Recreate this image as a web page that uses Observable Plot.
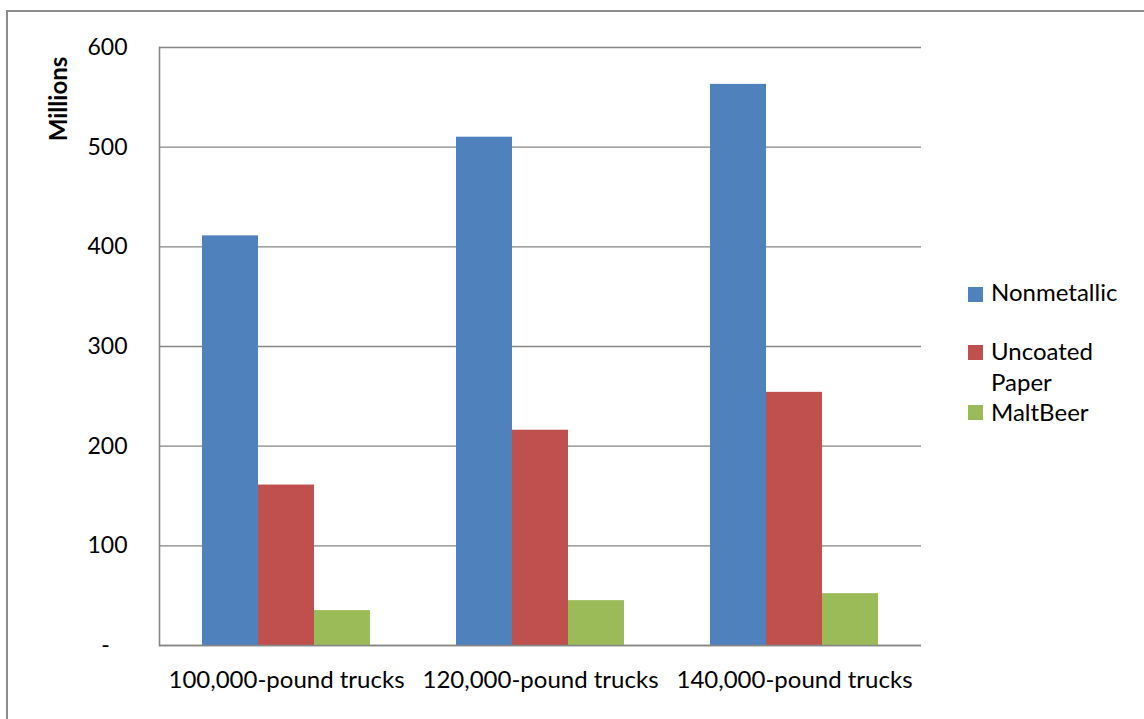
<!DOCTYPE html>
<html>
<head>
<meta charset="utf-8">
<script src="https://cdn.jsdelivr.net/npm/d3@7"></script>
<script src="https://cdn.jsdelivr.net/npm/@observablehq/plot@0.6"></script>
<style>
  html, body { margin: 0; padding: 0; background: #fff; overflow: hidden; }
  #wrap { position: relative; width: 1144px; height: 719px; overflow: hidden; background: #fff;
          font-family: Lato, "Open Sans", sans-serif; color: #000; }
  #border { position: absolute; left: 6px; top: 10px; width: 1300px; height: 900px;
            border: 2px solid #8c8c8c; box-sizing: border-box; pointer-events: none; }
  #chart { position: absolute; left: 0; top: 0; }
  .lg-item { position: absolute; left: 968px; }
  .lg-sw { position: absolute; left: 0; width: 15px; height: 15px; }
  .lg-tx { position: absolute; left: 23px; top: 0; width: 140px; font-size: 24px; line-height: 33px; white-space: normal; }
</style>
</head>
<body>
<div id="wrap">
  <div id="chart"></div>
  <div id="legend"></div>
  <div id="border"></div>
</div>
<script>
// ---- data ----
const categories = ["100,000-pound trucks", "120,000-pound trucks", "140,000-pound trucks"];
const series = ["Nonmetallic", "Uncoated Paper", "MaltBeer"];
const nonmetallic = [411, 510, 563];
const uncoatedPaper = [161, 216, 254];
const maltBeer = [35, 45, 52];
const colors = ["#4F81BD", "#C0504D", "#9BBB59"];
const yTicks = [0, 100, 200, 300, 400, 500, 600];
const yLabel = "Millions";

const valuesBySeries = [nonmetallic, uncoatedPaper, maltBeer];
const data = [];
categories.forEach((c, ci) => {
  series.forEach((s, si) => data.push({category: c, series: s, value: valuesBySeries[si][ci]}));
});

const gridColor = "#868686";

const chart = Plot.plot({
  width: 1144,
  height: 719,
  marginLeft: 158,
  marginRight: 223,
  marginTop: 47,
  marginBottom: 74,
  style: {fontFamily: "Lato, 'Open Sans', sans-serif", fontSize: "24px", color: "#000", background: "#fff"},
  fx: {domain: categories, paddingInner: 0, paddingOuter: 0, label: null},
  x: {domain: series, paddingInner: 0, paddingOuter: 0.75, axis: null},
  y: {domain: [0, 600], label: null, axis: null},
  color: {domain: series, range: colors},
  marks: [
    Plot.gridY(yTicks, {stroke: gridColor, strokeOpacity: 1, strokeWidth: 1.4}),
    Plot.barY(data, {fx: "category", x: "series", y: "value", fill: "series"}),
    Plot.ruleY([0], {stroke: gridColor, strokeWidth: 1.6}),
    Plot.frame({anchor: "left", facetAnchor: "left", stroke: gridColor, strokeWidth: 1.6}),
    Plot.axisY({ticks: yTicks, tickSize: 0, tickPadding: 32, anchor: "left",
      tickFormat: d => d === 0 ? "-\u00a0\u00a0\u00a0" : String(d), label: null, fontSize: 23}),
    Plot.axisFx({anchor: "bottom", tickSize: 0, tickPadding: 25, label: null, fontSize: 24})
  ]
});
document.getElementById("chart").appendChild(chart);

// y axis title
const svg = d3.select(chart);
svg.append("text")
  .attr("transform", "translate(57,99) rotate(-90)")
  .attr("text-anchor", "middle")
  .attr("dominant-baseline", "central")
  .attr("font-weight", "bold")
  .attr("font-size", 24)
  .attr("fill", "#000")
  .text(yLabel);

// legend
const legendTops = [275, 335, 403];
const legendLineHeights = [33, 31, 18];
const swatchTops = [12, 10, 2];
const legend = document.getElementById("legend");
series.forEach((s, i) => {
  const item = document.createElement("div");
  item.className = "lg-item";
  item.style.top = legendTops[i] + "px";
  const sw = document.createElement("div");
  sw.className = "lg-sw";
  sw.style.background = colors[i];
  sw.style.top = swatchTops[i] + "px";
  const tx = document.createElement("div");
  tx.className = "lg-tx";
  tx.style.lineHeight = legendLineHeights[i] + "px";
  tx.textContent = s;
  item.appendChild(sw);
  item.appendChild(tx);
  legend.appendChild(item);
});
</script>
</body>
</html>
